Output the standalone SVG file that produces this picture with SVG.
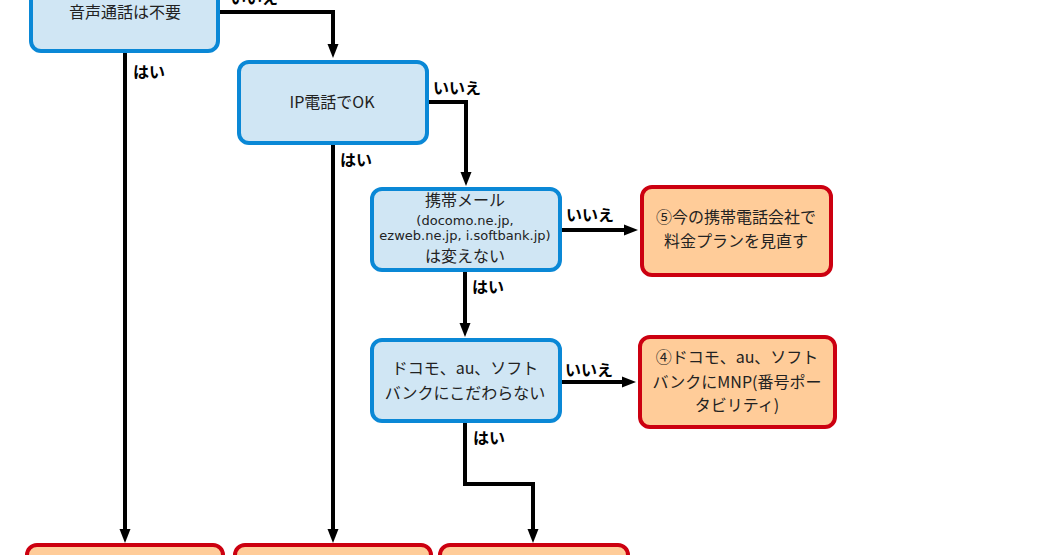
<svg xmlns="http://www.w3.org/2000/svg" width="1058" height="555" viewBox="0 0 1058 555">
<defs>
<marker id="ah" markerUnits="userSpaceOnUse" markerWidth="14" markerHeight="12" refX="3" refY="6" orient="auto">
<path d="M0,0.5 L14,6 L0,11.5 z" fill="#000"/>
</marker>
<style>
.q rect{fill:#d0e6f4;stroke:#0a88d6;stroke-width:4}
.r rect{fill:#ffcc99;stroke:#cc0010;stroke-width:4}
text{font-family:"Noto Sans CJK JP","Noto Sans",sans-serif}
.t{font-size:16px;fill:#222;text-anchor:middle}
.s{font-size:13px;font-family:"DejaVu Sans","Noto Sans CJK JP",sans-serif}
.l{font-size:16px;font-weight:bold;fill:#000}
.c path{fill:none;stroke:#000;stroke-width:4;marker-end:url(#ah)}
</style>
</defs>
<rect width="1058" height="555" fill="#fff"/>
<g id="connectors" class="c">
<path d="M220 12 H333 V47"/>
<path d="M428 102 H466 V175"/>
<path d="M562 230 H627"/>
<path d="M465 272 V326"/>
<path d="M562 382 H625"/>
<path d="M465 423 V484 H533 V532"/>
<path d="M125 53 V532"/>
<path d="M333 145 V532"/>
</g>
<g id="labels">
<text class="l" x="230" y="4">いいえ</text>
<text class="l" x="133" y="78">はい</text>
<text class="l" x="433" y="94">いいえ</text>
<text class="l" x="340" y="165.5">はい</text>
<text class="l" x="566" y="220.5">いいえ</text>
<text class="l" x="472" y="292.5">はい</text>
<text class="l" x="565" y="375.5">いいえ</text>
<text class="l" x="473" y="443.5">はい</text>
</g>
<g id="n1" class="q">
<rect x="31" y="-30" width="187" height="81" rx="10"/>
<text class="t" x="125" y="18">音声通話は不要</text>
</g>
<g id="n2" class="q">
<rect x="239" y="62" width="188" height="81" rx="10"/>
<text class="t" x="332" y="107.5">IP電話でOK</text>
</g>
<g id="n3" class="q">
<rect x="372" y="189" width="188" height="81" rx="10"/>
<text class="t" x="465" y="206">携帯メール</text>
<text class="t s" x="465" y="224.5">(docomo.ne.jp,</text>
<text class="t s" x="465" y="239.5">ezweb.ne.jp, i.softbank.jp)</text>
<text class="t" x="465" y="262">は変えない</text>
</g>
<g id="n4" class="q">
<rect x="372" y="340" width="188" height="81" rx="10"/>
<text class="t" x="465" y="374">ドコモ、au、ソフト</text>
<text class="t" x="465" y="399">バンクにこだわらない</text>
</g>
<g id="r5" class="r">
<rect x="642" y="187" width="189" height="88" rx="10"/>
<text class="t" x="736" y="223">⑤今の携帯電話会社で</text>
<text class="t" x="736" y="247">料金プランを見直す</text>
</g>
<g id="r4" class="r">
<rect x="640" y="337" width="195" height="90" rx="10"/>
<text class="t" x="737" y="363">④ドコモ、au、ソフト</text>
<text class="t" x="737" y="388">バンクにMNP(番号ポー</text>
<text class="t" x="737" y="411">タビリティ)</text>
</g>
<g id="b1" class="r">
<rect x="27" y="545" width="196" height="40" rx="10"/>
</g>
<g id="b2" class="r">
<rect x="235" y="545" width="196" height="40" rx="10"/>
</g>
<g id="b3" class="r">
<rect x="440" y="545" width="188" height="40" rx="10"/>
</g>
</svg>
